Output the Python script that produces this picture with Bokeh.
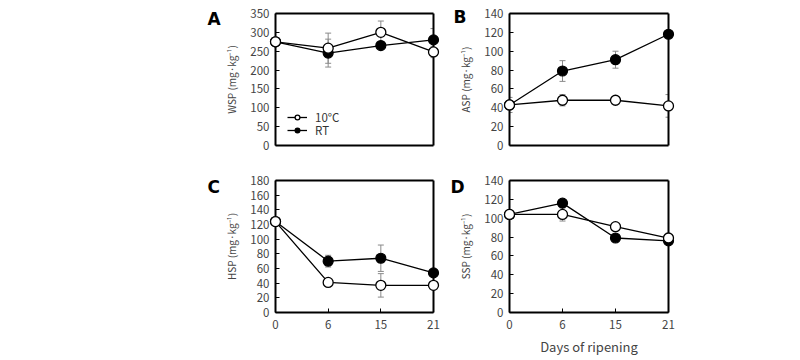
from bokeh.plotting import figure
from bokeh.layouts import column, row
from bokeh.models import (Range1d, FixedTicker, Whisker, ColumnDataSource,
                          Legend, LegendItem, TeeHead, LinearAxis, Title)
from bokeh.embed import file_html
from bokeh.resources import INLINE
from bokeh.core.properties import value

# ---------------- data ----------------
days = ["0", "6", "15", "21"]
xidx = [0, 1, 2, 3]

wsp_10c = [275, 258, 300, 248]
wsp_10c_err = [5, 40, 30, 15]
wsp_rt = [275, 245, 265, 280]
wsp_rt_err = [5, 37, 8, 30]

asp_10c = [43, 48, 48, 42]
asp_10c_err = [3, 6, 3, 12]
asp_rt = [43, 79, 91, 118]
asp_rt_err = [8, 11, 9, 3]

hsp_10c = [124, 41, 37, 37]
hsp_10c_err = [3, 3, 16, 3]
hsp_rt = [124, 70, 74, 54]
hsp_rt_err = [3, 8, 18, 3]

ssp_10c = [104, 104, 91, 79]
ssp_10c_err = [3, 7, 3, 5]
ssp_rt = [104, 116, 79, 76]
ssp_rt_err = [3, 3, 3, 3]

yticks_a = [0, 50, 100, 150, 200, 250, 300, 350]
yticks_b = [0, 20, 40, 60, 80, 100, 120, 140]
yticks_c = [0, 20, 40, 60, 80, 100, 120, 140, 160, 180]
yticks_d = [0, 20, 40, 60, 80, 100, 120, 140]

series_labels = ["10°C", "RT"]

FONT = "Noto Sans CJK KR"
TICK_COL = "#444444"
ERR_COL = "#8a8a8a"


def frame_axis(p, side):
    ax = LinearAxis(ticker=FixedTicker(ticks=[]), axis_line_width=2,
                    axis_line_color="black", major_tick_line_color=None,
                    minor_tick_line_color=None, major_label_text_font_size="0px")
    p.add_layout(ax, side)


def one_legend(label, renderers, y):
    return Legend(items=[LegendItem(label=label, renderers=renderers)],
                  location=(12, y), glyph_width=20, glyph_height=12,
                  label_height=12, spacing=0, padding=0, margin=0,
                  label_standoff=8, border_line_color=None,
                  background_fill_alpha=0,
                  label_text_font=FONT, label_text_font_size="11.5px",
                  label_text_color="#333333")


def panel(letter, ylabel, yticks, c_vals, c_err, r_vals, r_err,
          bl, fw, br, bt, fh, bb, show_x, ldx, ldy, legend=False):
    p = figure(width=bl + fw + br, height=bt + fh + bb,
               x_range=Range1d(0, 3), y_range=Range1d(yticks[0], yticks[-1]),
               output_backend="svg", toolbar_location=None,
               min_border_left=bl, min_border_right=br,
               min_border_top=bt, min_border_bottom=bb)
    p.xgrid.visible = False
    p.ygrid.visible = False
    p.outline_line_color = None
    p.background_fill_color = "white"
    p.border_fill_color = "white"

    p.yaxis.ticker = FixedTicker(ticks=yticks)
    p.yaxis.minor_tick_line_color = None
    p.yaxis.major_tick_in = 4
    p.yaxis.major_tick_out = 0
    p.yaxis.axis_line_width = 2
    p.yaxis.major_label_standoff = 6
    p.yaxis.major_label_text_font = FONT
    p.yaxis.major_label_text_font_size = "11.5px"
    p.yaxis.major_label_text_color = TICK_COL
    p.yaxis.axis_label = ylabel
    p.yaxis.axis_label_text_font = FONT
    p.yaxis.axis_label_text_font_size = "10px"
    p.yaxis.axis_label_text_font_style = "normal"
    p.yaxis.axis_label_standoff = 8

    if show_x:
        p.xaxis.ticker = FixedTicker(ticks=xidx)
        p.xaxis.major_label_overrides = {i: d for i, d in zip(xidx, days)}
        p.xaxis.minor_tick_line_color = None
        p.xaxis.major_tick_in = 4
        p.xaxis.major_tick_out = 0
        p.xaxis.axis_line_width = 2
        p.xaxis.major_label_standoff = 7
        p.xaxis.major_label_text_font = FONT
        p.xaxis.major_label_text_font_size = "11.5px"
        p.xaxis.major_label_text_color = TICK_COL
    else:
        p.xaxis.visible = False
        frame_axis(p, "below")
    frame_axis(p, "above")
    frame_axis(p, "right")

    for vals, errs in ((c_vals, c_err), (r_vals, r_err)):
        src = ColumnDataSource(dict(x=xidx,
                                    upper=[v + e for v, e in zip(vals, errs)],
                                    lower=[v - e for v, e in zip(vals, errs)]))
        w = Whisker(source=src, base="x", upper="upper", lower="lower",
                    line_color=ERR_COL, line_width=1, level="underlay",
                    upper_head=TeeHead(size=6, line_color=ERR_COL, line_width=1),
                    lower_head=TeeHead(size=6, line_color=ERR_COL, line_width=1))
        p.add_layout(w)

    rl = p.line(xidx, r_vals, line_color="black", line_width=1.3)
    cl = p.line(xidx, c_vals, line_color="black", line_width=1.3)
    rs = p.scatter(xidx, r_vals, size=10, marker="circle", fill_color="black",
                   line_color="black", line_width=1.2, level="overlay")
    cs = p.scatter(xidx, c_vals, size=10, marker="circle", fill_color="white",
                   line_color="black", line_width=1.3, level="overlay")

    if legend:
        p.add_layout(one_legend(series_labels[0], [cl, cs], 20))
        p.add_layout(one_legend(series_labels[1], [rl, rs], 7))

    # panel letter (overlay-level text glyph so it can sit outside the frame)
    p.text(x=[0], y=[yticks[-1]], text=[letter], x_offset=ldx, y_offset=ldy,
           text_baseline="top", text_align="left", text_font=value("DejaVu Sans"),
           text_font_style="bold", text_font_size="17px", text_color="black",
           level="overlay")
    return p


pa = panel("A", "WSP (mg·kg⁻¹)", yticks_a, wsp_10c, wsp_10c_err, wsp_rt, wsp_rt_err,
           275, 158, 15, 13, 132, 20, False, -68, -5, legend=True)
pb = panel("B", "ASP (mg·kg⁻¹)", yticks_b, asp_10c, asp_10c_err, asp_rt, asp_rt_err,
           61, 159, 20, 13, 132, 20, False, -56, -7)
pc = panel("C", "HSP (mg·kg⁻¹)", yticks_c, hsp_10c, hsp_10c_err, hsp_rt, hsp_rt_err,
           275, 158, 15, 15, 135, 43, True, -68, -4)
pd = panel("D", "SSP (mg·kg⁻¹)", yticks_d, ssp_10c, ssp_10c_err, ssp_rt, ssp_rt_err,
           61, 159, 20, 15, 135, 43, True, -59, -4)

pd.add_layout(Title(text="Days of ripening", align="center", offset=-118,
                    text_font=FONT, text_font_size="13px", text_font_style="normal",
                    standoff=6), "below")

layout = column(row(pa, pb), row(pc, pd))

open("out.html", "w").write(file_html(layout, INLINE))
